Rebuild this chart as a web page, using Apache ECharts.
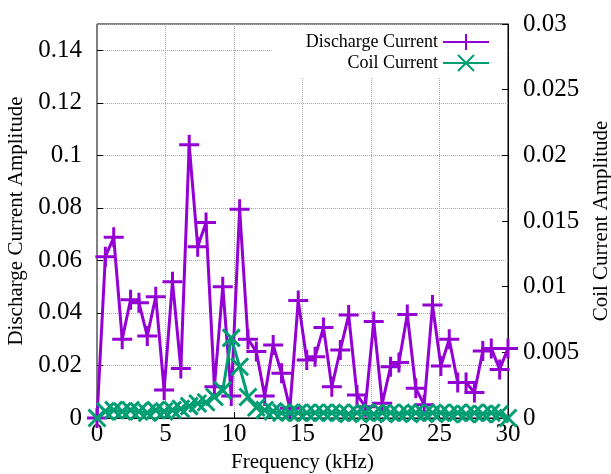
<!DOCTYPE html>
<html>
<head>
<meta charset="utf-8">
<script src="https://cdn.jsdelivr.net/npm/echarts@6/dist/echarts.min.js"></script>
<style>
html, body { margin: 0; background: #fff; }
#chart { width: 611px; height: 474px; }
</style>
</head>
<body>
<div id="chart"></div>
<script>
// Frequencies (kHz)
var freq = [0, 0.61, 1.22, 1.84, 2.45, 3.06, 3.67, 4.29, 4.90, 5.51,
  6.12, 6.73, 7.35, 7.96, 8.57, 9.18, 9.80, 10.41, 11.02, 11.63,
  12.24, 12.86, 13.47, 14.08, 14.69, 15.31, 15.92, 16.53, 17.14, 17.76,
  18.37, 18.98, 19.59, 20.20, 20.82, 21.43, 22.04, 22.65, 23.27, 23.88,
  24.49, 25.10, 25.71, 26.33, 26.94, 27.55, 28.16, 28.78, 29.39, 30.00];

// Discharge current amplitude (left axis)
var discharge = [0, 0.0614, 0.0688, 0.030, 0.045, 0.0439, 0.0312, 0.0462, 0.0107, 0.0519,
  0.0188, 0.104, 0.0652, 0.0744, 0.0119, 0.050, 0.0084, 0.0795, 0.030, 0.0253,
  0.0084, 0.0278, 0.017, 0.0037, 0.0447, 0.0221, 0.0233, 0.0345, 0.0119, 0.0259,
  0.0392, 0.0088, 0.0043, 0.0367, 0.0056, 0.0195, 0.0211, 0.0394, 0.0113, 0.005,
  0.043, 0.0198, 0.030, 0.0135, 0.0135, 0.0097, 0.0255, 0.0265, 0.0185, 0.0265];

// Coil current amplitude (right axis)
var coil = [0, 0.0005, 0.0006, 0.0005, 0.0006, 0.0005, 0.0004, 0.0006, 0.0005, 0.0006,
  0.0007, 0.0009, 0.0011, 0.0012, 0.0016, 0.0021, 0.0061, 0.0039, 0.0016, 0.0008,
  0.0006, 0.0005, 0.0004, 0.0004, 0.0004, 0.0004, 0.0004, 0.0004, 0.0004, 0.0004,
  0.0003, 0.0004, 0.0004, 0.0003, 0.0004, 0.0004, 0.0003, 0.0004, 0.0004, 0.0003,
  0.0004, 0.0004, 0.0003, 0.0004, 0.0003, 0.0004, 0.0003, 0.0004, 0.0003, 0];

var seriesNames = ['Discharge Current', 'Coil Current'];

var PURPLE = '#9400d3';
var GREEN = '#009e73';
var FONT = '"Liberation Serif", "Times New Roman", serif';

function fmt(v) {
  return parseFloat(v.toFixed(4)).toString();
}

var chart = echarts.init(document.getElementById('chart'), null, { renderer: 'canvas' });

chart.setOption({
  animation: false,
  backgroundColor: '#fff',
  grid: {
    left: 97, right: 103, top: 24, bottom: 56,
    containLabel: false,
    outerBoundsMode: 'none',
    show: true, borderColor: '#000', borderWidth: 1
  },
  legend: {
    data: seriesNames,
    orient: 'vertical',
    align: 'right',
    right: 104,
    top: 25,
    padding: [8, 17, 6, 34],
    itemGap: 3,
    itemWidth: 46,
    itemHeight: 20,
    backgroundColor: '#fff',
    textStyle: { fontFamily: FONT, fontSize: 18, color: '#000' }
  },
  xAxis: {
    type: 'value',
    min: 0, max: 30, interval: 5,
    name: 'Frequency (kHz)',
    nameLocation: 'middle',
    nameGap: 34,
    nameTextStyle: { fontFamily: FONT, fontSize: 21, color: '#000' },
    axisLine: { lineStyle: { color: '#000' } },
    axisTick: { inside: true, length: 6, lineStyle: { color: '#000' } },
    axisLabel: { fontFamily: FONT, fontSize: 25, color: '#000', margin: 4 },
    splitLine: { show: true, lineStyle: { color: '#a8a8a8', type: 'dotted', width: 1 } }
  },
  yAxis: [{
    type: 'value',
    min: 0, max: 0.15, interval: 0.02,
    name: 'Discharge Current Amplitude',
    nameLocation: 'middle',
    nameGap: 70,
    nameTextStyle: { fontFamily: FONT, fontSize: 21, color: '#000' },
    axisLine: { show: true, lineStyle: { color: '#808080' } },
    axisTick: { inside: true, length: 6, lineStyle: { color: '#000' } },
    axisLabel: { fontFamily: FONT, fontSize: 25, color: '#000', margin: 15,
      showMaxLabel: false, formatter: fmt },
    splitLine: { show: true, lineStyle: { color: '#a8a8a8', type: 'dotted', width: 1 } }
  }, {
    type: 'value',
    position: 'right',
    min: 0, max: 0.03, interval: 0.005,
    name: 'Coil Current Amplitude',
    nameLocation: 'middle',
    nameGap: 83,
    nameTextStyle: { fontFamily: FONT, fontSize: 21, color: '#000' },
    axisLine: { show: true, lineStyle: { color: '#000' } },
    axisTick: { inside: true, length: 6, lineStyle: { color: '#000' } },
    axisLabel: { fontFamily: FONT, fontSize: 25, color: '#000', margin: 15, formatter: fmt },
    splitLine: { show: false }
  }],
  series: [{
    name: seriesNames[0],
    type: 'line',
    yAxisIndex: 0,
    data: freq.map(function (f, i) { return [f, discharge[i]]; }),
    symbol: 'path://M10,0L10,20M0,10L20,10',
    symbolSize: 20,
    lineStyle: { color: PURPLE, width: 3 },
    itemStyle: { color: PURPLE, borderColor: PURPLE, borderWidth: 3 },
    z: 3
  }, {
    name: seriesNames[1],
    type: 'line',
    yAxisIndex: 1,
    data: freq.map(function (f, i) { return [f, coil[i]]; }),
    symbol: 'path://M0,0L20,20M20,0L0,20',
    symbolSize: 17,
    lineStyle: { color: GREEN, width: 3 },
    itemStyle: { color: GREEN, borderColor: GREEN, borderWidth: 3 },
    z: 4
  }]
});
</script>
</body>
</html>
